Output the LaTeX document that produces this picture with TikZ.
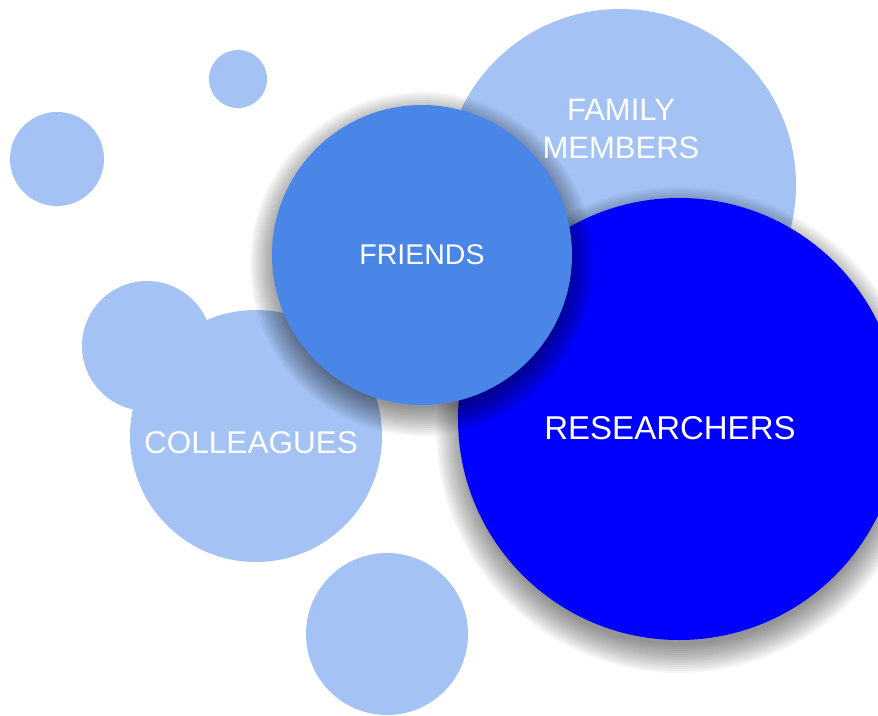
\documentclass[tikz,border=0pt]{standalone}
\usepackage{fontspec}
\setmainfont{Liberation Sans}
\definecolor{lightc}{HTML}{A4C2F4}
\definecolor{friendc}{HTML}{4A86E8}
\definecolor{resc}{HTML}{0000FF}
\tikzset{
  bubble/.style={circle, inner sep=0pt, outer sep=0pt, draw=none},
  lbl/.style={text=white, align=center, inner sep=0pt},
}
\newcommand{\softshadow}[3]{%
  \foreach \k in {0,...,14}{%
    \fill[black, opacity=0.035] (#1,#2) circle[radius={(#3-6+2*\k)*1pt}];
  }%
}
\begin{document}
\begin{tikzpicture}[x=1pt,y=-1pt]
\useasboundingbox (0,0) rectangle (878,715);
\clip (0,0) rectangle (878,715);
% light bubbles
\node[bubble, fill=lightc, minimum size=58pt] (b1) at (238,79) {};
\node[bubble, fill=lightc, minimum size=94pt] (b2) at (57,159) {};
\node[bubble, fill=lightc, minimum size=352pt] (fam) at (620,185) {};
\node[bubble, fill=lightc, minimum size=252pt] (col) at (256,436) {};
\node[bubble, fill=lightc, minimum size=130pt] (b3) at (147,346) {};
\node[bubble, fill=lightc, minimum size=162pt] (b4) at (387,634) {};
% researchers
\softshadow{679}{430}{221}
\node[bubble, fill=resc, minimum size=442pt] (res) at (679,419) {};
% friends
\softshadow{422}{264}{150}
\node[bubble, fill=friendc, minimum size=300pt] (fri) at (422,255) {};
% labels
\node[lbl, font=\fontsize{31}{38}\selectfont] (tfam) at (621,129) {FAMILY\\MEMBERS};
\node[lbl, font=\fontsize{28.5}{34}\selectfont] (tfri) at (422,255) {FRIENDS};
\node[lbl, font=\fontsize{31.5}{36}\selectfont] (tcol) at (251,443) {COLLEAGUES};
\node[lbl, font=\fontsize{33}{40}\selectfont] (tres) at (670,428) {RESEARCHERS};
\end{tikzpicture}
\end{document}
